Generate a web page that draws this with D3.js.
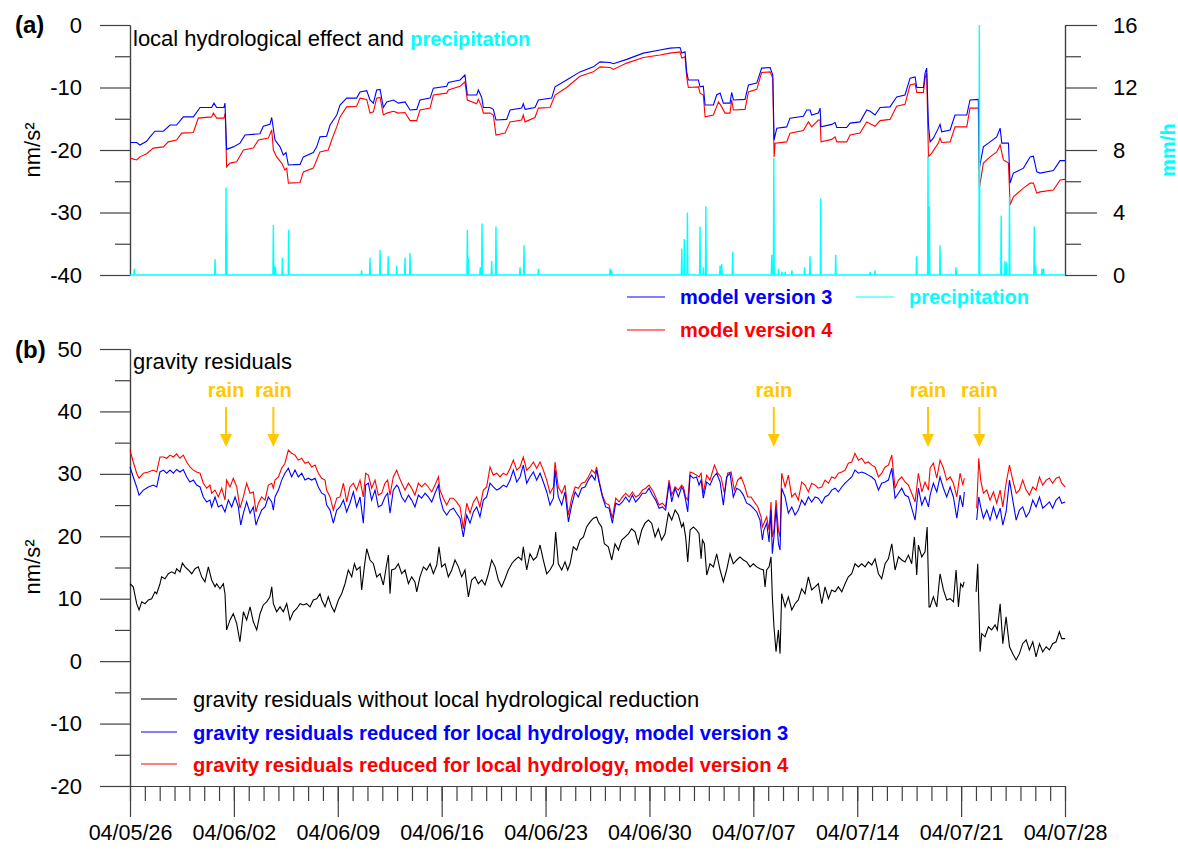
<!DOCTYPE html>
<html>
<head>
<meta charset="utf-8">
<script src="https://cdn.jsdelivr.net/npm/d3@7"></script>
<style>
  body { margin: 0; background: #fff; }
  svg { display: block; }
</style>
</head>
<body>
<svg id="chart" width="1178" height="854"></svg>
<script>
// ---- data: times are days since 2004-05-26 00:00 UTC ----

// local hydrological effect on gravity (nm/s²)
const hydroV3 = [[0.00,-18.8],[0.45,-18.8],[0.67,-19.2],[1.12,-18.6],[1.35,-17.9],[1.68,-17.0],[2.25,-17.0],[2.70,-16.0],[3.14,-16.0],[3.59,-14.7],[4.27,-14.7],[4.72,-13.2],[5.50,-13.2],[5.66,-12.5],[5.84,-13.2],[6.33,-13.2],[6.40,-12.5],[6.51,-19.9],[6.96,-19.5],[7.41,-18.9],[7.75,-17.6],[8.76,-17.4],[8.98,-16.2],[9.43,-15.9],[9.55,-14.8],[9.77,-18.4],[10.11,-19.5],[10.33,-20.8],[10.51,-20.4],[10.67,-22.4],[11.46,-22.3],[11.68,-21.1],[12.35,-20.4],[12.58,-19.5],[12.80,-17.9],[13.25,-17.8],[13.48,-16.0],[13.93,-14.4],[14.15,-12.8],[14.60,-11.7],[15.27,-11.7],[15.50,-10.7],[15.95,-10.5],[16.17,-12.0],[16.40,-12.5],[16.62,-10.4],[16.85,-10.3],[17.07,-13.2],[17.30,-12.3],[17.75,-12.0],[18.08,-12.5],[18.53,-12.3],[18.87,-13.6],[19.32,-13.5],[19.54,-12.0],[20.22,-11.7],[20.44,-10.1],[21.34,-9.8],[21.45,-9.2],[22.24,-8.8],[22.57,-8.0],[22.73,-11.2],[23.36,-11.2],[23.47,-10.4],[23.70,-11.6],[23.81,-13.2],[24.26,-13.2],[24.48,-13.5],[24.66,-15.2],[25.38,-15.1],[25.61,-13.6],[26.39,-13.3],[26.50,-12.6],[26.62,-13.5],[27.29,-13.2],[27.52,-12.0],[28.41,-11.7],[28.64,-9.9],[29.42,-8.8],[30.32,-7.5],[31.22,-6.7],[31.67,-5.9],[32.35,-6.0],[32.57,-6.2],[33.47,-5.5],[34.59,-4.5],[35.71,-4.0],[36.39,-3.7],[37.06,-3.6],[37.18,-4.5],[37.40,-4.3],[37.51,-7.5],[37.62,-8.8],[38.30,-8.8],[38.41,-9.9],[38.63,-9.8],[38.75,-12.8],[39.31,-12.8],[39.53,-11.2],[39.76,-10.9],[39.98,-12.5],[40.43,-12.5],[40.54,-10.8],[40.66,-12.0],[41.44,-11.9],[41.67,-9.6],[42.23,-9.3],[42.56,-6.9],[43.13,-6.8],[43.31,-8.0],[43.40,-18.4],[43.58,-16.5],[44.25,-16.3],[44.47,-14.9],[45.37,-14.6],[45.60,-13.6],[45.82,-13.6],[45.93,-14.4],[46.38,-14.1],[46.50,-13.3],[46.56,-16.3],[47.28,-15.9],[47.51,-15.6],[47.62,-16.4],[48.29,-16.4],[48.52,-15.7],[49.19,-15.5],[49.64,-13.6],[49.87,-13.8],[50.20,-14.4],[50.54,-13.2],[51.21,-13.1],[51.66,-11.5],[52.22,-11.2],[52.56,-8.5],[52.90,-8.3],[53.01,-10.0],[53.46,-10.0],[53.57,-7.7],[53.68,-6.9],[53.80,-16.0],[53.91,-18.7],[54.13,-18.1],[54.47,-16.5],[54.58,-15.9],[54.69,-17.1],[55.26,-16.8],[55.59,-14.4],[56.38,-14.4],[56.60,-12.0],[57.16,-11.9],[57.23,-22.9],[57.50,-19.5],[57.95,-18.7],[58.40,-17.9],[58.63,-16.5],[58.74,-18.9],[59.19,-18.9],[59.30,-25.3],[59.52,-23.7],[60.20,-22.9],[60.65,-21.1],[60.87,-21.0],[61.10,-23.5],[61.32,-23.7],[62.22,-23.3],[62.67,-21.7],[63.00,-21.7]];

const hydroV4 = [[0.00,-21.3],[0.45,-21.6],[0.67,-21.1],[1.12,-20.6],[1.57,-19.7],[2.25,-19.5],[2.58,-18.7],[3.14,-18.4],[3.48,-17.3],[4.27,-17.2],[4.60,-14.9],[5.50,-14.7],[5.62,-14.1],[5.84,-14.9],[6.33,-14.9],[6.42,-14.1],[6.51,-22.7],[6.74,-22.1],[7.19,-21.9],[7.64,-20.0],[8.31,-19.7],[8.65,-18.4],[9.32,-18.1],[9.55,-16.8],[9.66,-20.0],[9.88,-21.1],[10.22,-22.1],[10.44,-23.2],[10.56,-22.9],[10.67,-25.3],[11.46,-25.2],[11.68,-23.5],[12.35,-22.9],[12.58,-21.6],[12.80,-20.3],[13.36,-20.0],[13.59,-18.4],[13.93,-16.3],[14.15,-14.7],[14.60,-13.1],[15.27,-13.0],[15.50,-11.7],[15.95,-11.9],[16.17,-14.1],[16.40,-13.9],[16.62,-11.7],[16.85,-11.6],[17.07,-14.4],[17.30,-14.1],[17.75,-13.8],[18.08,-14.1],[18.53,-14.0],[18.87,-15.3],[19.32,-15.3],[19.54,-13.6],[20.22,-13.3],[20.44,-11.2],[21.34,-10.9],[21.45,-10.4],[22.24,-9.8],[22.57,-9.1],[22.73,-12.0],[23.36,-12.6],[23.47,-11.9],[23.70,-13.1],[23.81,-14.1],[24.26,-14.1],[24.48,-14.4],[24.66,-17.6],[25.27,-17.3],[25.61,-15.5],[26.39,-15.2],[26.50,-14.4],[26.62,-15.5],[27.29,-14.8],[27.52,-13.3],[28.30,-13.2],[28.64,-11.2],[29.42,-10.0],[30.32,-8.2],[31.22,-7.5],[31.67,-6.7],[32.35,-6.8],[32.57,-7.1],[33.47,-6.1],[34.59,-5.2],[35.71,-4.8],[36.39,-4.5],[37.06,-4.3],[37.18,-5.3],[37.40,-5.1],[37.51,-8.3],[37.62,-10.0],[38.30,-9.9],[38.41,-10.9],[38.63,-11.2],[38.75,-14.7],[39.31,-14.4],[39.65,-12.3],[39.87,-13.1],[40.09,-14.1],[40.43,-14.1],[40.54,-12.0],[40.66,-13.6],[41.44,-13.5],[41.67,-10.7],[42.23,-10.3],[42.56,-7.6],[43.13,-7.5],[43.31,-8.5],[43.40,-21.1],[43.47,-18.9],[44.25,-18.7],[44.47,-17.3],[45.37,-16.9],[45.71,-15.5],[45.93,-16.3],[46.38,-15.2],[46.50,-15.2],[46.56,-18.7],[47.28,-18.3],[47.51,-17.9],[47.62,-18.7],[48.29,-18.7],[48.52,-17.6],[49.19,-17.3],[49.64,-15.5],[49.87,-15.8],[50.20,-16.2],[50.54,-15.3],[51.21,-15.1],[51.66,-13.0],[52.22,-12.7],[52.56,-9.6],[52.90,-9.4],[53.01,-10.8],[53.46,-10.8],[53.57,-8.5],[53.68,-7.7],[53.80,-21.1],[54.02,-20.5],[54.47,-18.9],[54.58,-18.1],[54.69,-18.8],[55.26,-18.7],[55.59,-16.3],[56.38,-16.3],[56.60,-13.3],[57.16,-13.3],[57.23,-26.1],[57.50,-22.1],[57.95,-21.1],[58.40,-20.3],[58.63,-19.2],[58.85,-21.6],[59.19,-22.1],[59.30,-28.8],[59.52,-27.5],[60.20,-26.1],[60.65,-25.3],[60.87,-25.3],[61.10,-26.9],[61.32,-26.7],[62.22,-26.4],[62.67,-24.8],[63.00,-24.7]];

// precipitation events (mm/h); all other hours are dry
const precipEvents = [[0.29,0.4],[5.73,1.0],[6.47,5.6],[6.51,2.7],[9.66,3.2],[9.73,0.6],[9.80,0.5],[10.27,1.1],[10.69,2.9],[15.60,0.3],[16.17,1.1],[16.85,1.6],[17.40,1.2],[17.97,0.6],[18.53,1.1],[18.87,1.4],[22.73,2.9],[22.80,1.1],[23.60,0.5],[23.72,3.3],[24.37,0.9],[24.66,3.1],[26.28,0.5],[26.55,1.9],[27.52,0.4],[32.35,0.4],[32.45,0.3],[37.18,1.7],[37.35,2.3],[37.56,4.0],[38.41,3.1],[38.63,0.5],[38.80,4.4],[39.76,0.6],[39.87,0.7],[40.61,1.5],[43.24,1.3],[43.38,7.5],[43.70,0.4],[43.92,0.2],[44.15,0.2],[44.60,0.3],[45.45,0.5],[45.82,1.2],[46.54,4.9],[47.55,1.3],[49.87,0.2],[50.20,0.3],[53.00,1.2],[53.77,7.6],[53.86,4.4],[54.58,1.9],[55.66,0.5],[57.23,16.0],[58.70,3.8],[58.96,0.9],[59.07,0.8],[59.26,5.0],[60.93,3.1],[61.02,0.6],[61.45,0.4],[61.55,0.4]];

// gravity residuals (nm/s²); null marks the data gap
const residualRaw = [[0.00,12.4],[0.22,11.9],[0.45,9.2],[0.61,8.2],[0.79,9.5],[1.01,9.2],[1.24,9.8],[1.46,10.0],[1.68,11.1],[1.80,10.8],[2.02,12.4],[2.13,13.5],[2.36,13.2],[2.58,14.0],[2.81,14.3],[3.03,14.0],[3.14,14.8],[3.37,14.3],[3.53,15.7],[3.71,15.1],[3.93,14.6],[4.16,14.0],[4.38,14.8],[4.60,15.1],[4.83,13.5],[5.05,12.7],[5.28,15.1],[5.50,13.0],[5.73,11.9],[5.84,12.4],[6.06,11.6],[6.29,12.4],[6.40,10.8],[6.51,5.0],[6.74,6.6],[6.96,7.6],[7.19,6.0],[7.41,3.1],[7.64,7.9],[7.86,6.6],[8.09,8.7],[8.31,6.3],[8.54,5.0],[8.76,7.6],[8.98,9.0],[9.21,9.5],[9.43,10.3],[9.55,11.9],[9.66,9.2],[9.88,7.9],[10.11,8.7],[10.33,7.9],[10.56,9.2],[10.78,6.6],[11.01,7.9],[11.23,8.4],[11.46,9.2],[11.68,9.0],[11.90,9.2],[12.13,8.7],[12.35,9.8],[12.58,10.0],[12.80,10.8],[12.92,9.8],[13.14,8.7],[13.36,10.3],[13.59,8.7],[13.77,7.9],[14.04,9.8],[14.26,10.8],[14.49,12.4],[14.71,14.6],[14.94,13.5],[15.12,15.6],[15.27,14.6],[15.50,15.1],[15.61,11.4],[15.79,15.1],[15.95,18.0],[16.17,16.2],[16.40,15.6],[16.62,13.5],[16.85,14.0],[17.07,12.2],[17.30,15.6],[17.41,17.0],[17.52,10.8],[17.63,14.6],[17.86,14.8],[18.08,15.6],[18.31,14.0],[18.53,14.6],[18.76,12.4],[18.98,13.5],[19.20,12.7],[19.32,11.1],[19.54,13.5],[19.77,15.1],[19.99,14.6],[20.22,15.6],[20.44,14.0],[20.67,15.4],[20.82,18.3],[21.00,15.1],[21.23,15.6],[21.45,13.5],[21.68,14.6],[21.90,16.2],[22.13,15.1],[22.35,13.5],[22.57,14.6],[22.80,10.3],[23.02,13.0],[23.25,13.5],[23.47,12.4],[23.70,13.0],[23.92,12.2],[24.15,14.0],[24.37,16.2],[24.60,15.1],[24.82,13.0],[25.04,11.9],[25.27,13.2],[25.49,14.6],[25.72,15.6],[25.94,16.2],[26.17,16.7],[26.39,16.2],[26.50,18.3],[26.73,14.6],[26.95,17.2],[27.18,16.2],[27.40,16.7],[27.63,18.6],[27.85,16.2],[28.08,14.0],[28.30,14.6],[28.53,15.6],[28.68,20.7],[28.86,15.6],[29.09,14.6],[29.31,15.9],[29.49,14.6],[29.65,15.6],[29.87,18.3],[30.10,17.8],[30.32,19.4],[30.55,19.9],[30.77,21.5],[31.00,22.3],[31.22,22.9],[31.44,23.1],[31.56,22.3],[31.78,21.5],[31.96,18.8],[32.23,18.3],[32.46,16.2],[32.68,18.8],[32.91,17.8],[33.13,19.4],[33.36,19.9],[33.58,20.4],[33.80,21.2],[34.03,20.7],[34.25,18.8],[34.48,21.0],[34.70,22.1],[34.93,22.6],[35.15,22.1],[35.38,19.9],[35.60,21.2],[35.82,19.4],[36.05,20.4],[36.28,23.7],[36.50,22.6],[36.73,24.2],[36.95,23.4],[37.17,21.5],[37.29,22.1],[37.44,19.9],[37.58,15.9],[37.74,21.0],[37.96,21.5],[38.18,21.0],[38.34,20.4],[38.48,16.4],[38.57,19.4],[38.70,18.8],[38.86,13.8],[39.08,15.6],[39.31,15.1],[39.53,17.2],[39.76,14.6],[39.98,12.7],[40.20,14.6],[40.43,17.2],[40.65,15.6],[40.88,16.2],[41.10,16.7],[41.33,16.2],[41.55,15.9],[41.78,15.1],[42.00,15.6],[42.23,15.1],[42.45,14.8],[42.68,14.6],[42.79,11.9],[42.90,14.6],[43.06,15.1],[43.19,16.7],[43.28,10.3],[43.39,5.5],[43.53,1.5],[43.69,5.0],[43.80,1.2],[43.91,10.8],[44.14,8.7],[44.36,10.3],[44.59,8.2],[44.81,9.2],[45.03,9.8],[45.26,11.6],[45.48,10.8],[45.71,13.5],[45.93,11.4],[46.16,11.9],[46.38,12.4],[46.61,9.2],[46.83,11.9],[47.06,10.0],[47.28,11.4],[47.51,11.1],[47.73,11.9],[47.96,11.1],[48.18,12.4],[48.40,13.5],[48.63,14.0],[48.85,15.6],[49.08,15.1],[49.30,15.6],[49.53,15.1],[49.75,15.9],[49.98,15.4],[50.20,16.4],[50.43,14.0],[50.65,13.2],[50.88,15.6],[51.10,16.4],[51.33,18.8],[51.55,14.6],[51.78,16.7],[52.00,16.2],[52.22,15.9],[52.45,17.0],[52.67,15.6],[52.85,19.9],[53.01,13.8],[53.12,18.6],[53.35,16.7],[53.57,17.5],[53.71,21.5],[53.84,8.7],[53.91,8.7],[54.13,10.3],[54.36,8.7],[54.58,14.0],[54.81,11.4],[55.03,9.8],[55.26,10.0],[55.48,9.5],[55.66,14.6],[55.82,8.7],[55.97,12.4],[56.11,11.9],[56.20,12.7],[56.60,null],[57.01,11.1],[57.12,15.6],[57.28,1.5],[57.39,4.4],[57.61,3.9],[57.84,5.5],[58.06,5.0],[58.29,5.8],[58.44,5.0],[58.63,9.2],[58.81,2.8],[59.03,7.1],[59.26,2.3],[59.48,1.2],[59.71,0.2],[59.93,1.2],[60.15,2.8],[60.38,3.4],[60.60,1.8],[60.83,3.1],[61.05,0.7],[61.28,2.8],[61.50,1.5],[61.73,2.3],[61.95,1.8],[62.17,2.8],[62.40,3.1],[62.62,4.7],[62.78,3.6],[63.01,3.6]];

const residualV3 = [[0.00,31.1],[0.22,29.5],[0.45,27.9],[0.61,26.6],[0.90,27.4],[1.24,27.9],[1.57,28.2],[1.80,27.9],[2.02,30.3],[2.25,30.6],[2.47,30.1],[2.70,30.6],[2.92,30.1],[3.14,30.7],[3.37,30.3],[3.59,30.7],[3.82,29.5],[4.04,28.7],[4.27,29.0],[4.49,28.2],[4.72,27.9],[4.94,26.3],[5.17,25.5],[5.39,25.8],[5.50,24.7],[5.73,26.3],[5.95,24.7],[6.18,25.0],[6.40,23.9],[6.63,25.8],[6.85,24.7],[7.08,26.3],[7.30,24.7],[7.46,21.8],[7.64,23.7],[7.86,25.5],[8.09,23.7],[8.31,24.7],[8.49,21.8],[8.65,22.9],[8.87,24.2],[9.10,24.7],[9.32,26.3],[9.55,25.5],[9.66,24.2],[9.77,26.3],[10.00,27.4],[10.22,29.0],[10.44,30.1],[10.67,30.9],[10.89,29.5],[11.12,30.6],[11.34,29.5],[11.57,30.1],[11.79,29.0],[12.02,29.3],[12.24,29.0],[12.47,29.3],[12.69,27.9],[12.92,26.9],[13.14,26.6],[13.25,25.0],[13.48,24.2],[13.70,22.1],[13.93,24.2],[14.15,24.7],[14.38,25.8],[14.60,23.9],[14.82,25.3],[15.05,27.1],[15.27,24.7],[15.50,26.3],[15.72,22.1],[15.88,28.2],[16.06,28.5],[16.28,25.8],[16.51,27.4],[16.73,24.7],[16.96,25.0],[17.18,26.3],[17.36,26.9],[17.52,23.7],[17.74,27.4],[17.97,28.2],[18.08,27.9],[18.31,26.3],[18.53,25.5],[18.76,26.6],[18.98,25.8],[19.20,24.7],[19.43,26.6],[19.65,26.1],[19.88,26.9],[20.10,26.3],[20.33,25.5],[20.55,26.9],[20.78,28.2],[20.89,26.1],[21.11,24.2],[21.34,23.4],[21.56,24.2],[21.79,24.5],[22.01,23.7],[22.24,22.9],[22.46,19.9],[22.69,23.4],[22.91,22.1],[23.14,23.9],[23.36,24.7],[23.58,23.1],[23.81,25.8],[24.03,26.3],[24.26,28.5],[24.48,27.9],[24.71,27.4],[24.93,27.7],[25.16,28.2],[25.38,27.9],[25.61,29.0],[25.83,30.6],[26.06,28.7],[26.28,29.5],[26.50,31.4],[26.73,28.5],[26.95,29.5],[27.18,30.3],[27.40,29.0],[27.63,30.1],[27.85,28.7],[28.08,27.1],[28.30,25.0],[28.53,26.1],[28.64,30.6],[28.86,26.3],[29.09,25.0],[29.31,27.1],[29.54,22.3],[29.76,25.0],[29.99,27.1],[30.21,26.3],[30.43,27.7],[30.66,27.9],[30.88,29.0],[31.11,29.8],[31.33,29.0],[31.44,30.6],[31.60,28.7],[31.83,26.3],[32.05,24.7],[32.28,24.5],[32.50,22.1],[32.73,25.3],[32.95,25.0],[33.18,25.5],[33.40,26.3],[33.63,25.5],[33.85,26.6],[34.07,25.5],[34.30,26.1],[34.52,26.9],[34.75,26.9],[34.97,27.7],[35.20,26.6],[35.42,25.8],[35.65,24.5],[35.87,24.7],[36.09,24.2],[36.32,28.5],[36.50,25.5],[36.73,27.7],[36.95,26.3],[37.17,27.9],[37.29,27.4],[37.44,25.8],[37.58,23.9],[37.74,29.8],[37.96,29.3],[38.18,29.5],[38.34,28.2],[38.48,29.0],[38.63,26.1],[38.86,28.7],[39.08,28.2],[39.31,29.5],[39.53,30.1],[39.76,28.7],[39.98,25.0],[40.20,29.5],[40.43,30.1],[40.65,26.3],[40.88,27.7],[41.10,27.4],[41.33,26.6],[41.55,25.3],[41.78,25.0],[42.00,24.5],[42.23,23.9],[42.45,22.6],[42.61,19.4],[42.71,21.0],[42.90,22.1],[43.06,19.1],[43.19,24.2],[43.28,17.2],[43.39,19.9],[43.53,24.5],[43.69,18.8],[43.80,17.8],[43.91,27.7],[44.14,26.3],[44.36,23.7],[44.59,24.7],[44.81,23.4],[45.03,24.2],[45.26,25.8],[45.48,25.0],[45.71,26.3],[45.93,25.5],[46.16,26.3],[46.38,26.1],[46.61,25.3],[46.83,26.3],[47.06,26.6],[47.28,27.4],[47.51,27.7],[47.73,27.1],[47.96,27.9],[48.18,28.5],[48.40,29.0],[48.63,29.5],[48.85,30.6],[49.08,30.1],[49.30,30.3],[49.53,30.1],[49.75,29.8],[49.98,29.5],[50.20,29.0],[50.43,27.4],[50.65,28.5],[50.88,28.7],[51.10,29.0],[51.33,30.9],[51.55,26.1],[51.78,26.9],[52.00,27.7],[52.22,26.6],[52.45,26.3],[52.67,24.5],[52.90,22.6],[53.12,27.7],[53.35,25.0],[53.57,26.3],[53.80,24.7],[53.91,26.6],[54.13,28.5],[54.36,27.1],[54.58,29.5],[54.81,27.7],[55.03,26.3],[55.26,27.9],[55.48,26.3],[55.71,22.9],[55.93,26.6],[56.11,24.7],[56.22,27.1],[56.60,null],[57.05,22.6],[57.19,26.3],[57.32,24.7],[57.50,22.9],[57.73,24.2],[57.95,22.6],[58.18,24.7],[58.40,22.9],[58.63,24.5],[58.81,21.8],[59.03,23.9],[59.26,29.0],[59.48,25.8],[59.71,22.6],[59.93,24.2],[60.15,24.7],[60.38,23.1],[60.60,23.9],[60.83,25.8],[61.05,24.7],[61.28,26.3],[61.50,24.5],[61.73,25.0],[61.95,25.5],[62.17,24.5],[62.40,25.8],[62.62,26.3],[62.78,25.3],[63.01,25.5]];

const residualV4 = [[0.00,33.8],[0.22,31.9],[0.45,30.1],[0.61,29.3],[0.90,30.1],[1.24,30.3],[1.57,30.6],[1.80,30.3],[2.02,32.7],[2.25,32.7],[2.47,32.5],[2.70,33.0],[2.92,32.7],[3.14,33.2],[3.37,32.5],[3.59,33.0],[3.82,31.9],[4.04,31.1],[4.27,30.6],[4.49,30.3],[4.72,30.1],[4.94,28.5],[5.17,27.7],[5.39,28.2],[5.50,26.9],[5.73,27.4],[5.95,26.3],[6.18,27.7],[6.40,25.8],[6.51,29.0],[6.74,27.9],[6.96,29.3],[7.19,27.9],[7.41,24.5],[7.64,26.3],[7.86,28.5],[8.09,26.9],[8.31,27.1],[8.49,23.9],[8.65,25.3],[8.87,26.3],[9.10,25.8],[9.32,28.2],[9.55,28.5],[9.66,27.7],[9.77,29.0],[10.00,29.5],[10.22,30.9],[10.44,31.7],[10.67,33.8],[10.89,33.3],[11.12,33.0],[11.34,32.2],[11.57,32.5],[11.79,31.7],[12.02,31.9],[12.24,31.1],[12.47,31.4],[12.69,30.1],[12.92,29.3],[13.14,29.0],[13.25,27.4],[13.48,26.3],[13.70,24.2],[13.93,26.1],[14.15,26.3],[14.38,28.5],[14.60,25.5],[14.82,27.9],[15.05,28.5],[15.27,27.4],[15.50,29.0],[15.72,26.3],[15.88,30.1],[16.06,29.8],[16.28,27.7],[16.51,29.0],[16.73,26.6],[16.96,26.9],[17.18,28.5],[17.36,29.0],[17.52,26.6],[17.74,29.5],[17.97,30.6],[18.08,29.8],[18.31,28.5],[18.53,27.4],[18.76,28.5],[18.98,27.7],[19.20,26.6],[19.43,28.5],[19.65,27.9],[19.88,28.5],[20.10,27.9],[20.33,27.1],[20.55,28.2],[20.78,29.5],[20.89,27.4],[21.11,26.1],[21.34,25.0],[21.56,26.1],[21.79,26.1],[22.01,25.5],[22.24,24.7],[22.46,21.2],[22.69,25.3],[22.91,23.7],[23.14,25.5],[23.36,26.3],[23.58,24.7],[23.81,27.4],[24.03,27.9],[24.26,31.1],[24.48,29.8],[24.71,30.1],[24.93,29.5],[25.16,30.1],[25.38,29.8],[25.61,30.9],[25.83,32.2],[26.06,30.6],[26.28,31.1],[26.50,32.7],[26.73,30.6],[26.95,31.1],[27.18,31.9],[27.40,30.9],[27.63,31.9],[27.85,30.6],[28.08,29.0],[28.30,26.9],[28.53,27.9],[28.64,31.9],[28.86,27.9],[29.09,26.9],[29.31,28.2],[29.54,23.4],[29.76,26.1],[29.99,27.9],[30.21,27.7],[30.43,28.5],[30.66,28.7],[30.88,29.5],[31.11,30.6],[31.33,30.1],[31.44,31.1],[31.60,29.0],[31.83,26.6],[32.05,25.3],[32.28,25.0],[32.50,22.9],[32.73,26.1],[32.95,25.5],[33.18,26.3],[33.40,26.9],[33.63,26.3],[33.85,27.1],[34.07,26.3],[34.30,26.6],[34.52,27.4],[34.75,27.7],[34.97,28.2],[35.20,27.4],[35.42,26.3],[35.65,25.0],[35.87,25.3],[36.09,24.7],[36.32,29.0],[36.50,26.6],[36.73,27.9],[36.95,27.4],[37.17,28.2],[37.29,27.9],[37.44,26.3],[37.58,25.8],[37.74,30.3],[37.96,30.1],[38.18,29.8],[38.34,29.5],[38.48,30.1],[38.63,26.9],[38.86,29.8],[39.08,29.0],[39.38,31.4],[39.60,30.1],[39.82,29.5],[40.05,26.9],[40.27,30.1],[40.50,30.3],[40.72,27.4],[40.95,29.0],[41.17,29.5],[41.39,28.2],[41.62,26.3],[41.85,26.3],[42.07,25.5],[42.30,24.7],[42.52,23.1],[42.61,21.5],[42.71,22.1],[42.90,23.1],[43.06,21.0],[43.19,25.5],[43.28,19.9],[43.39,21.0],[43.53,25.8],[43.69,21.0],[43.80,19.9],[43.91,30.1],[44.14,27.9],[44.36,29.8],[44.59,26.3],[44.81,26.9],[45.03,25.8],[45.26,28.7],[45.48,28.2],[45.71,27.1],[45.93,28.5],[46.16,28.2],[46.38,27.7],[46.61,27.9],[46.83,29.0],[47.06,28.5],[47.28,29.5],[47.51,29.3],[47.73,30.1],[47.96,30.3],[48.18,30.6],[48.40,31.7],[48.63,31.9],[48.85,33.3],[49.08,32.2],[49.30,32.5],[49.53,31.7],[49.75,31.9],[49.98,31.4],[50.20,31.1],[50.43,29.5],[50.65,30.1],[50.88,31.1],[51.10,31.4],[51.33,33.0],[51.55,27.7],[51.78,29.0],[52.00,29.5],[52.22,28.7],[52.45,28.2],[52.67,26.9],[52.90,25.5],[53.12,30.1],[53.35,27.1],[53.57,28.7],[53.80,27.4],[53.91,30.9],[54.13,31.7],[54.36,29.3],[54.58,32.2],[54.81,30.9],[55.03,29.0],[55.26,29.5],[55.48,28.5],[55.71,26.3],[55.93,30.1],[56.11,28.2],[56.22,29.3],[56.60,null],[57.05,24.5],[57.19,32.5],[57.32,29.0],[57.50,26.9],[57.73,27.4],[57.95,25.8],[58.18,27.1],[58.40,25.3],[58.63,27.4],[58.81,24.7],[59.03,28.5],[59.26,31.4],[59.48,29.0],[59.71,26.9],[59.93,27.4],[60.15,29.0],[60.38,27.4],[60.60,26.6],[60.83,27.9],[61.05,27.4],[61.28,29.5],[61.50,28.2],[61.73,29.0],[61.95,29.3],[62.17,28.5],[62.40,29.3],[62.62,29.5],[62.78,28.5],[63.01,27.9]];

// rain events marked on the residual panel
const rainDays = [6.47, 9.66, 43.38, 53.77, 57.23];

// axis ticks
const hydroTicks = [0, -10, -20, -30, -40];
const hydroMinor = [-5, -15, -25, -35];
const precipTicks = [0, 4, 8, 12, 16];
const precipMinor = [2, 6, 10, 14];
const residualTicks = [50, 40, 30, 20, 10, 0, -10, -20];
const residualMinor = [45, 35, 25, 15, 5, -5, -15];
const weekDays = [0, 7, 14, 21, 28, 35, 42, 49, 56, 63];
const allDays = d3.range(0, 64);

// labels
const hydroLegend = ["model version 3", "model version 4", "precipitation"];
const residualLegend = [
  "gravity residuals without local hydrological reduction",
  "gravity residuals reduced for local hydrology, model version 3",
  "gravity residuals reduced for local hydrology, model version 4"
];

// ---- drawing ----
const FONT = '"Liberation Sans", Arial, Helvetica, sans-serif';
const AX = "#404040";
const BLUE = "#0000ff", RED = "#ff0000", CYAN = "#00ffff", GOLD = "#ffc800";

const T0 = Date.UTC(2004, 4, 26), DAY = 864e5;
const toDate = d => new Date(T0 + d * DAY);

const svg = d3.select("#chart").attr("font-family", FONT);
svg.append("rect").attr("width", 1178).attr("height", 854).attr("fill", "#fff");

const x = d3.scaleUtc().domain([toDate(0), toDate(63)]).range([130, 1065]);
const yA = d3.scaleLinear().domain([-40, 0]).range([275, 25]);
const yP = d3.scaleLinear().domain([0, 16]).range([275, 25]);
const yB = d3.scaleLinear().domain([-20, 50]).range([786, 349]);

function styleAxis(g, fontSize) {
  g.attr("font-family", FONT).attr("font-size", fontSize);
  g.select(".domain").attr("stroke", AX).attr("stroke-width", 1.2);
  g.selectAll(".tick line").attr("stroke", AX).attr("stroke-width", 1.2);
  g.selectAll(".tick text").attr("fill", "#000");
}

function yAxisPair(scale, major, minor, xPos, right) {
  const mk = right ? d3.axisRight : d3.axisLeft;
  svg.append("g").attr("transform", `translate(${xPos},0)`)
    .call(mk(scale).tickValues(minor).tickSize(right ? 16 : 15).tickSizeOuter(0).tickFormat(""))
    .call(g => styleAxis(g, 22));
  svg.append("g").attr("transform", `translate(${xPos},0)`)
    .call(mk(scale).tickValues(major).tickSize(right ? 32 : 30).tickSizeOuter(0)
      .tickPadding(right ? 16 : 18).tickFormat(d => String(d)))
    .call(g => styleAxis(g, 22));
}

// panel (a) axes
yAxisPair(yA, hydroTicks, hydroMinor, 130, false);
yAxisPair(yP, precipTicks, precipMinor, 1065, true);
// panel (b) axes
yAxisPair(yB, residualTicks, residualMinor, 130, false);

const fmt = d3.utcFormat("%y/%m/%d");
svg.append("g").attr("transform", "translate(0,786)")
  .call(d3.axisBottom(x).tickValues(allDays.map(toDate)).tickSize(15).tickSizeOuter(0).tickFormat(""))
  .call(g => styleAxis(g, 21.5));
svg.append("g").attr("transform", "translate(0,786)")
  .call(d3.axisBottom(x).tickValues(weekDays.map(toDate)).tickSize(31).tickSizeOuter(0)
    .tickPadding(8).tickFormat(fmt))
  .call(g => styleAxis(g, 21.5));

// axis titles and panel letters
svg.append("text").attr("x", 15).attr("y", 33).attr("font-size", 24).attr("font-weight", "bold").text("(a)");
svg.append("text").attr("x", 15).attr("y", 358).attr("font-size", 24).attr("font-weight", "bold").text("(b)");
[150, 567].forEach(cy => {
  svg.append("text").attr("transform", `translate(40,${cy}) rotate(-90)`)
    .attr("text-anchor", "middle").attr("font-size", 22).text("nm/s²");
});
svg.append("text").attr("transform", "translate(1175,150) rotate(-90)")
  .attr("text-anchor", "middle").attr("font-size", 20).attr("font-weight", "bold")
  .attr("fill", CYAN).text("mm/h");

// panel titles
const tA = svg.append("text").attr("x", 133).attr("y", 46).attr("font-size", 22);
tA.append("tspan").text("local hydrological effect and ");
tA.append("tspan").attr("fill", CYAN).attr("font-weight", "bold").attr("font-size", 20).text("precipitation");
svg.append("text").attr("x", 133).attr("y", 369).attr("font-size", 22).text("gravity residuals");

// panel (a) curves
const lineA = d3.line().x(d => x(toDate(d[0]))).y(d => yA(d[1]));
svg.append("path").datum(hydroV4).attr("d", lineA).attr("fill", "none").attr("stroke", RED).attr("stroke-width", 1.1);
svg.append("path").datum(hydroV3).attr("d", lineA).attr("fill", "none").attr("stroke", BLUE).attr("stroke-width", 1.1);

// precipitation: dry baseline with a narrow spike per wet hour
const precipPts = [[0, 0]];
precipEvents.forEach(([d, p]) => { precipPts.push([d - 0.03, 0], [d, p], [d + 0.03, 0]); });
precipPts.push([63, 0]);
const lineP = d3.line().x(d => x(toDate(d[0]))).y(d => yP(d[1]));
svg.append("path").datum(precipPts).attr("d", lineP).attr("fill", "none").attr("stroke", CYAN).attr("stroke-width", 1.4);

// panel (a) legend
const legA = [
  { x1: 627, y: 297, color: BLUE, label: hydroLegend[0] },
  { x1: 627, y: 330, color: RED, label: hydroLegend[1] },
  { x1: 856, y: 297, color: CYAN, label: hydroLegend[2] }
];
legA.forEach(l => {
  svg.append("line").attr("x1", l.x1).attr("x2", l.x1 + 38).attr("y1", l.y).attr("y2", l.y)
    .attr("stroke", l.color).attr("stroke-width", 1.2);
  svg.append("text").attr("x", l.x1 + 53).attr("y", l.y + 7).attr("font-size", 20)
    .attr("font-weight", "bold").attr("fill", l.color).text(l.label);
});

// panel (b) curves
const lineB = d3.line().defined(d => d[1] != null).x(d => x(toDate(d[0]))).y(d => yB(d[1]));
svg.append("path").datum(residualRaw).attr("d", lineB).attr("fill", "none").attr("stroke", "#000").attr("stroke-width", 1.1);
svg.append("path").datum(residualV4).attr("d", lineB).attr("fill", "none").attr("stroke", RED).attr("stroke-width", 1.1);
svg.append("path").datum(residualV3).attr("d", lineB).attr("fill", "none").attr("stroke", BLUE).attr("stroke-width", 1.1);

// rain markers
rainDays.forEach(d => {
  const cx = x(toDate(d));
  svg.append("text").attr("x", cx).attr("y", 397).attr("text-anchor", "middle")
    .attr("font-size", 20).attr("font-weight", "bold").attr("fill", GOLD).text("rain");
  svg.append("line").attr("x1", cx).attr("x2", cx).attr("y1", 407).attr("y2", 437)
    .attr("stroke", GOLD).attr("stroke-width", 2);
  svg.append("path").attr("d", `M${cx - 6},434L${cx + 6},434L${cx},447Z`).attr("fill", GOLD);
});

// panel (b) legend
const legB = [
  { y: 699, color: "#000", bold: false },
  { y: 732, color: BLUE, bold: true },
  { y: 764, color: RED, bold: true }
];
legB.forEach((l, i) => {
  svg.append("line").attr("x1", 141).attr("x2", 177).attr("y1", l.y).attr("y2", l.y)
    .attr("stroke", l.color).attr("stroke-width", 1.2);
  svg.append("text").attr("x", 193).attr("y", l.y + 8)
    .attr("font-size", l.bold ? 20.2 : 22).attr("font-weight", l.bold ? "bold" : "normal")
    .attr("fill", l.color).text(residualLegend[i]);
});
</script>
</body>
</html>
